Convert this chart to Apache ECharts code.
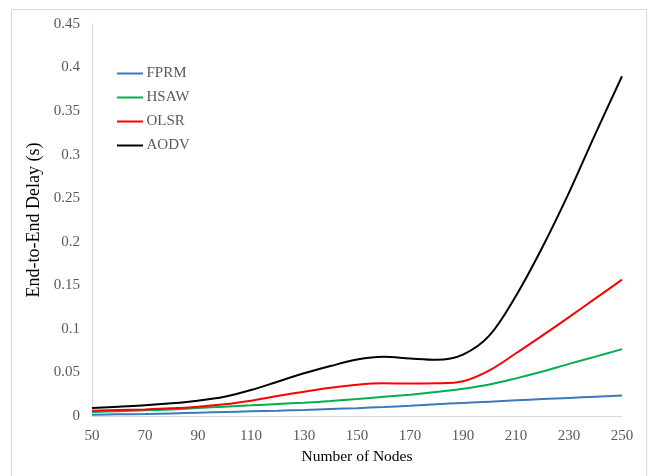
<!DOCTYPE html>
<html><head><meta charset="utf-8">
<script src="https://cdn.jsdelivr.net/npm/echarts@6/dist/echarts.min.js"></script>
<style>html,body{margin:0;padding:0;background:#fff}#c{width:650px;height:476px}</style>
</head><body><div id="c"></div>
<script>
// Number of nodes (values every 10 nodes)
const nodes = [50,60,70,80,90,100,110,120,130,140,150,160,170,180,190,200,210,220,230,240,250];
// End-to-end delay (s)
const fprm = [0.0015,0.0019,0.0023,0.0030,0.0038,0.0046,0.0054,0.0061,0.0069,0.0080,0.0090,0.0103,0.0118,0.0135,0.0150,0.0165,0.0180,0.0194,0.0208,0.0222,0.0236];
const hsaw = [0.0046,0.0054,0.0065,0.0076,0.0092,0.0107,0.0122,0.0138,0.0153,0.0172,0.0195,0.0220,0.0245,0.0275,0.0312,0.0362,0.0432,0.0510,0.0598,0.0682,0.0768];
const olsr = [0.0061,0.0069,0.0076,0.0088,0.0107,0.0134,0.0176,0.0229,0.0279,0.0325,0.0360,0.0375,0.0372,0.0375,0.0400,0.0525,0.0720,0.0925,0.1135,0.1350,0.1565];
const aodv = [0.0092,0.0107,0.0122,0.0145,0.0176,0.0222,0.0298,0.0394,0.0490,0.0573,0.0648,0.0680,0.0660,0.0645,0.0705,0.0925,0.1380,0.1940,0.2565,0.3242,0.3900];
const seriesNames = ['FPRM','HSAW','OLSR','AODV'];
const seriesColors = ['#3C78C0','#00B050','#FF0000','#000000'];
const xTicks = [50,70,90,110,130,150,170,190,210,230,250];
const yTicks = [0,0.05,0.1,0.15,0.2,0.25,0.3,0.35,0.4,0.45];

const allVals = [fprm,hsaw,olsr,aodv];
const chart = echarts.init(document.getElementById('c'), null, {renderer:'canvas'});
const font = 'Liberation Serif';
chart.setOption({
  animation:false,
  backgroundColor:'#fff',
  graphic:[{type:'rect',shape:{x:11.5,y:9.5,width:635,height:480},style:{fill:'none',stroke:'#d9d9d9',lineWidth:1},silent:true}],
  grid:{left:92,right:28,top:24,bottom:60},
  legend:{
    orient:'vertical', left:117, top:66, itemGap:9, padding:0,
    itemWidth:26, itemHeight:2, icon:'rect',
    textStyle:{fontFamily:font,fontSize:15,color:'#595959',padding:[0,0,0,-1.5]},
    data:seriesNames
  },
  xAxis:{
    type:'value', min:50, max:250, interval:20,
    name:'Number of Nodes', nameLocation:'middle', nameGap:33,
    nameTextStyle:{fontFamily:font,fontSize:15.5,color:'#000'},
    axisLine:{lineStyle:{color:'#d9d9d9',width:1}},
    axisTick:{show:false},
    axisLabel:{margin:12.5,fontFamily:font,fontSize:15,color:'#595959',
      customValues:xTicks},
    splitLine:{show:false}
  },
  yAxis:{
    type:'value', min:0, max:0.45, interval:0.05,
    name:'End-to-End Delay (s)', nameLocation:'middle', nameGap:43,
    nameTextStyle:{fontFamily:font,fontSize:18,color:'#000'},
    axisLine:{show:true,lineStyle:{color:'#d9d9d9',width:1}},
    axisTick:{show:false},
    axisLabel:{margin:12,fontFamily:font,fontSize:15,color:'#595959',
      formatter:v=>{const t=yTicks.find(x=>Math.abs(x-v)<1e-9);return String(t!==undefined?+t.toFixed(2):v);}},
    splitLine:{show:false}
  },
  series: seriesNames.map((n,i)=>({
    name:n, type:'line', data:nodes.map((x,j)=>[x,allVals[i][j]]),
    smooth:0.35, symbol:'none', showSymbol:false,
    lineStyle:{color:seriesColors[i],width:2}, itemStyle:{color:seriesColors[i]}
  }))
});
</script></body></html>
